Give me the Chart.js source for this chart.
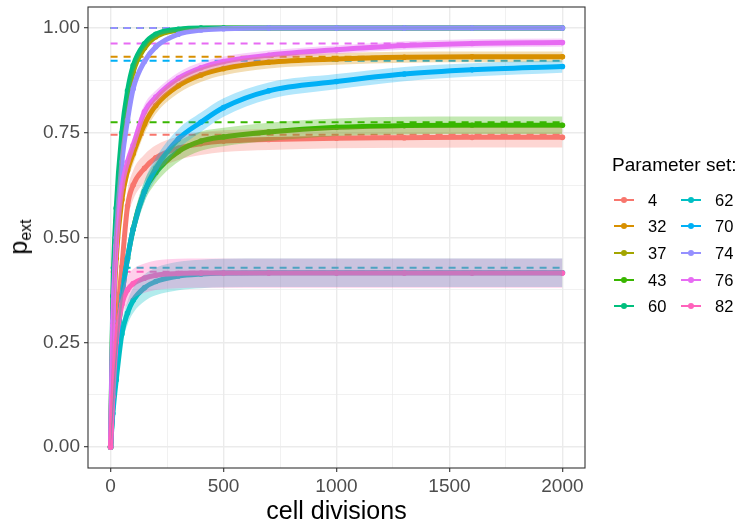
<!DOCTYPE html>
<html>
<head>
<meta charset="utf-8">
<script src="https://cdn.jsdelivr.net/npm/chart.js@4.4.0/dist/chart.umd.min.js"></script>
<style>
  body { margin: 0; background: #fff; font-family: "Liberation Sans", Arial, sans-serif; }
  #wrap { position: relative; width: 742px; height: 524px; overflow: hidden; }
  canvas { position: absolute; left: 0; top: 0; }
  .xtitle { position: absolute; left: 88px; width: 497px; top: 496px; text-align: center; font-size: 25px; line-height: 28px; color: #000; }
  .ytitle { position: absolute; left: 22px; top: 237px; transform: translate(-50%, -50%) rotate(-90deg); font-size: 25px; line-height: 28px; white-space: nowrap; color: #000; }
  .ytitle sub { font-size: 16px; vertical-align: -4px; }
  .lg-title { position: absolute; left: 612px; top: 153px; font-size: 19px; line-height: 24px; color: #000; white-space: nowrap; }
  .lg-line { position: absolute; width: 20px; height: 2px; }
  .lg-dot { position: absolute; width: 6px; height: 6px; border-radius: 50%; }
  .lg-lab { position: absolute; font-size: 16.5px; line-height: 20px; color: #000; }
</style>
</head>
<body>
<div id="wrap">
  <canvas id="chart" width="742" height="524"></canvas>
  <div class="ytitle">p<sub>ext</sub></div>
  <div class="xtitle">cell divisions</div>
  <div class="lg-title">Parameter set:</div>
  <div id="legend"></div>
</div>
<script>
// parameter sets and colours (ggplot hue palette)
const sets = ['4', '32', '37', '43', '60', '62', '70', '74', '76', '82'];
const colors = ['#F8766D', '#D89000', '#A3A500', '#39B600', '#00BF7D', '#00BFC4', '#00B0F6', '#9590FF', '#E76BF3', '#FF62BC'];

// cell divisions where the curves are read
const divisions = [0, 10, 25, 50, 75, 100, 150, 200, 300, 400, 500, 700, 1000, 1300, 1600, 2000];

// simulated p_ext (mean) per parameter set
const p4  = [0, 0.12, 0.27, 0.43, 0.575, 0.625, 0.665, 0.69, 0.713, 0.724, 0.73, 0.734, 0.737, 0.738, 0.739, 0.739];
const p32 = [0, 0.26, 0.45, 0.59, 0.66, 0.70, 0.77, 0.815, 0.862, 0.888, 0.903, 0.918, 0.926, 0.93, 0.931, 0.931];
const p37 = [0, 0.33, 0.54, 0.72, 0.825, 0.895, 0.952, 0.979, 0.995, 0.999, 1, 1, 1, 1, 1, 1];
const p43 = [0, 0.1, 0.22, 0.36, 0.45, 0.52, 0.61, 0.655, 0.705, 0.73, 0.74, 0.752, 0.763, 0.767, 0.768, 0.768];
const p60 = [0, 0.36, 0.57, 0.75, 0.85, 0.91, 0.962, 0.985, 0.997, 1, 1, 1, 1, 1, 1, 1];
const p62 = [0, 0.08, 0.16, 0.27, 0.32, 0.35, 0.38, 0.395, 0.408, 0.413, 0.415, 0.416, 0.416, 0.416, 0.416, 0.416];
const p70 = [0, 0.1, 0.22, 0.36, 0.45, 0.52, 0.61, 0.665, 0.735, 0.775, 0.81, 0.85, 0.872, 0.89, 0.9, 0.908];
const p74 = [0, 0.3, 0.5, 0.68, 0.78, 0.855, 0.92, 0.955, 0.985, 0.995, 0.998, 1, 1, 1, 1, 1];
const p76 = [0, 0.29, 0.48, 0.62, 0.68, 0.72, 0.80, 0.835, 0.88, 0.905, 0.92, 0.935, 0.948, 0.958, 0.963, 0.965];
const p82 = [0, 0.12, 0.25, 0.34, 0.375, 0.39, 0.403, 0.41, 0.414, 0.415, 0.415, 0.415, 0.415, 0.415, 0.415, 0.415];

// half width of the confidence band
const ci4  = [0, 0.02, 0.03, 0.035, 0.035, 0.035, 0.033, 0.03, 0.028, 0.027, 0.026, 0.025, 0.024, 0.024, 0.024, 0.024];
const ci32 = [0, 0.02, 0.025, 0.025, 0.025, 0.025, 0.022, 0.02, 0.018, 0.017, 0.016, 0.015, 0.014, 0.013, 0.013, 0.013];
const ci37 = [0, 0.02, 0.02, 0.015, 0.012, 0.01, 0.007, 0.005, 0.003, 0.002, 0.001, 0.001, 0.001, 0.001, 0.001, 0.001];
const ci43 = [0, 0.015, 0.02, 0.025, 0.025, 0.025, 0.025, 0.025, 0.024, 0.023, 0.022, 0.022, 0.021, 0.021, 0.021, 0.021];
const ci60 = [0, 0.02, 0.02, 0.015, 0.012, 0.01, 0.007, 0.005, 0.003, 0.002, 0.001, 0.001, 0.001, 0.001, 0.001, 0.001];
const ci62 = [0, 0.015, 0.02, 0.025, 0.028, 0.03, 0.032, 0.033, 0.034, 0.034, 0.034, 0.034, 0.034, 0.034, 0.034, 0.034];
const ci70 = [0, 0.015, 0.02, 0.025, 0.025, 0.025, 0.025, 0.025, 0.024, 0.023, 0.022, 0.02, 0.018, 0.017, 0.016, 0.015];
const ci74 = [0, 0.02, 0.02, 0.018, 0.015, 0.012, 0.009, 0.007, 0.005, 0.003, 0.002, 0.002, 0.002, 0.002, 0.002, 0.002];
const ci76 = [0, 0.02, 0.025, 0.025, 0.022, 0.02, 0.018, 0.016, 0.014, 0.013, 0.012, 0.011, 0.01, 0.01, 0.01, 0.01];
const ci82 = [0, 0.02, 0.03, 0.032, 0.034, 0.035, 0.035, 0.035, 0.035, 0.035, 0.035, 0.035, 0.035, 0.035, 0.035, 0.035];

// theoretical p_ext (dashed lines)
const theory = [0.745, 0.931, 1.0, 0.775, 1.0, 0.428, 0.922, 1.0, 0.963, 0.418];

// axis ticks
const xTicks = [0, 500, 1000, 1500, 2000];
const xMinor = [250, 750, 1250, 1750];
const yTicks = [0, 0.25, 0.5, 0.75, 1];
const yMinor = [0.125, 0.375, 0.625, 0.875];

const means = [p4, p32, p37, p43, p60, p62, p70, p74, p76, p82];
const bands = [ci4, ci32, ci37, ci43, ci60, ci62, ci70, ci74, ci76, ci82];
const FONT = '"Liberation Sans", Arial, sans-serif';

function rgba(hex, a) {
  const n = parseInt(hex.slice(1), 16);
  return 'rgba(' + (n >> 16) + ',' + ((n >> 8) & 255) + ',' + (n & 255) + ',' + a + ')';
}

const datasets = [];
sets.forEach((s, i) => {
  // dashed theoretical value, drawn first
  datasets.push({
    label: 'theory ' + s,
    data: [{ x: 0, y: theory[i] }, { x: 2000, y: theory[i] }],
    borderColor: colors[i], borderWidth: 2, borderDash: [7, 6],
    pointRadius: 0, fill: false, order: 300 - i
  });
  // simulated curve
  datasets.push({
    label: s,
    data: divisions.map((d, k) => ({ x: d, y: means[i][k] })),
    borderColor: colors[i], backgroundColor: colors[i], borderWidth: 5,
    borderCapStyle: 'round', borderJoinStyle: 'round',
    pointRadius: 2.8, pointBorderWidth: 0, pointBackgroundColor: colors[i],
    cubicInterpolationMode: 'monotone', fill: false, order: 200 - i
  });
});
sets.forEach((s, i) => {
  // confidence band on top
  datasets.push({
    label: 'upper ' + s,
    data: divisions.map((d, k) => ({ x: d, y: means[i][k] + bands[i][k] })),
    borderWidth: 0, pointRadius: 0, backgroundColor: rgba(colors[i], 0.3),
    cubicInterpolationMode: 'monotone', fill: '+1', order: 100 - i
  });
  datasets.push({
    label: 'lower ' + s,
    data: divisions.map((d, k) => ({ x: d, y: means[i][k] - bands[i][k] })),
    borderWidth: 0, pointRadius: 0, backgroundColor: 'rgba(0,0,0,0)',
    cubicInterpolationMode: 'monotone', fill: false, order: 100 - i
  });
});

const panelBorder = {
  id: 'panelBorder',
  afterDatasetsDraw(chart) {
    const a = chart.chartArea, c = chart.ctx;
    c.save();
    c.strokeStyle = '#333333';
    c.lineWidth = 1.1;
    c.strokeRect(a.left, a.top, a.right - a.left, a.bottom - a.top);
    c.restore();
  }
};

const isMajor = (list, v) => list.some(t => Math.abs(t - v) < 1e-9);

new Chart(document.getElementById('chart'), {
  type: 'line',
  data: { datasets },
  options: {
    responsive: false, animation: false, devicePixelRatio: 1,
    layout: { padding: { left: 0, top: 7, right: 157, bottom: 0 } },
    plugins: { legend: { display: false }, tooltip: { enabled: false } },
    scales: {
      x: {
        type: 'linear', min: -100, max: 2100,
        afterBuildTicks: sc => { sc.ticks = xTicks.concat(xMinor).sort((a, b) => a - b).map(v => ({ value: v })); },
        afterFit: sc => { sc.height = 56; },
        ticks: {
          autoSkip: false, maxRotation: 0, padding: 3, color: '#4D4D4D',
          font: { family: FONT, size: 19 },
          callback: v => isMajor(xTicks, v) ? String(v) : ''
        },
        grid: {
          color: '#EBEBEB', tickLength: 4,
          lineWidth: c => isMajor(xTicks, c.tick.value) ? 1.4 : 0.7,
          tickColor: c => isMajor(xTicks, c.tick.value) ? '#333333' : 'rgba(0,0,0,0)',
          tickWidth: 1.1
        },
        border: { display: false }
      },
      y: {
        type: 'linear', min: -0.05, max: 1.05,
        afterBuildTicks: sc => { sc.ticks = yTicks.concat(yMinor).sort((a, b) => a - b).map(v => ({ value: v })); },
        afterFit: sc => { sc.width = 88; },
        ticks: {
          autoSkip: false, padding: 4, color: '#4D4D4D',
          font: { family: FONT, size: 19, lineHeight: 0.3 },
          callback: v => isMajor(yTicks, v) ? v.toFixed(2) : ''
        },
        grid: {
          color: '#EBEBEB', tickLength: 4,
          lineWidth: c => isMajor(yTicks, c.tick.value) ? 1.4 : 0.7,
          tickColor: c => isMajor(yTicks, c.tick.value) ? '#333333' : 'rgba(0,0,0,0)',
          tickWidth: 1.1
        },
        border: { display: false }
      }
    }
  },
  plugins: [panelBorder]
});

// legend, two columns like ggplot
const lg = document.getElementById('legend');
sets.forEach((s, i) => {
  const col = i < 5 ? 0 : 1, row = i % 5;
  const cy = 199.5 + row * 26.7;
  const kx = 614 + col * 67;
  lg.insertAdjacentHTML('beforeend',
    '<div class="lg-line" style="left:' + kx + 'px;top:' + (cy - 1) + 'px;background:' + colors[i] + '"></div>' +
    '<div class="lg-dot" style="left:' + (kx + 7) + 'px;top:' + (cy - 3) + 'px;background:' + colors[i] + '"></div>' +
    '<div class="lg-lab" style="left:' + (kx + 34) + 'px;top:' + (cy - 10) + 'px">' + s + '</div>');
});
</script>
</body>
</html>
